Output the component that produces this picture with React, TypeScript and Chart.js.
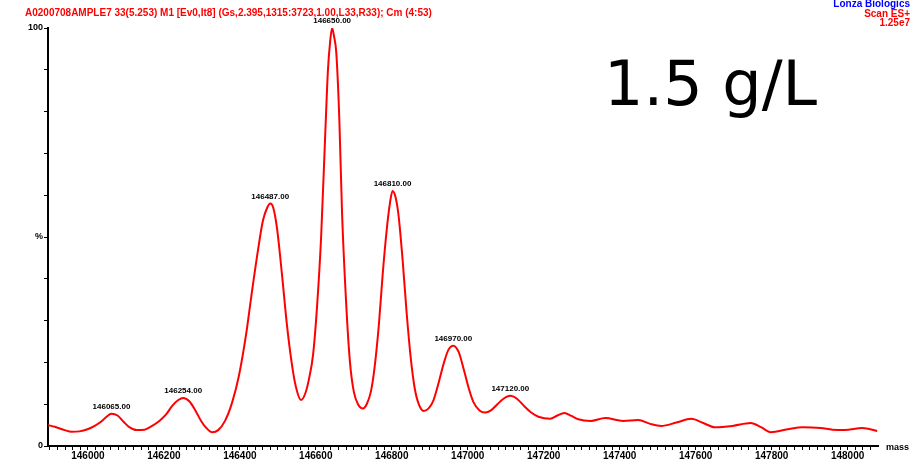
import React, { useEffect, useRef } from "react";
import { Chart, registerables } from "chart.js";

Chart.register(...registerables);

// ---- data (mass in Da, relative intensity in %) ----
const masses = [
  145895, 145913, 145939, 145957, 145978, 145999, 146018, 146036, 146049, 146062,
  146078, 146094, 146109, 146128, 146149, 146167, 146188, 146207, 146222, 146238,
  146251, 146267, 146283, 146298, 146312, 146327, 146343, 146361, 146380, 146398,
  146417, 146432, 146448, 146461, 146472, 146480, 146488, 146498, 146511, 146524,
  146538, 146548, 146561, 146572, 146582, 146593, 146603, 146614, 146625, 146632,
  146638, 146643, 146648, 146654, 146662, 146669, 146680, 146690, 146700, 146711,
  146724, 146734, 146745, 146755, 146766, 146776, 146787, 146795, 146802, 146810,
  146818, 146829, 146839, 146850, 146860, 146871, 146884, 146897, 146910, 146923,
  146936, 146949, 146962, 146976, 146989, 147002, 147015, 147031, 147046, 147062,
  147078, 147094, 147112, 147131, 147149, 147167, 147186, 147217, 147236, 147254,
  147273, 147291, 147323, 147362, 147409, 147449, 147480, 147509, 147549, 147588,
  147620, 147650, 147697, 147745, 147772, 147798, 147842, 147882, 147929, 147960,
  147992, 148039, 148078,
];
const intensity = [
  5.0, 4.6, 3.8, 3.4, 3.5, 4.0, 4.8, 5.9, 7.0, 7.7,
  7.3, 5.8, 4.5, 3.8, 3.9, 4.7, 6.0, 7.7, 9.6, 11.0,
  11.5, 10.7, 8.5, 6.0, 4.3, 3.3, 3.8, 6.0, 10.5, 17,
  27, 37, 47, 54, 57, 58, 57, 52, 41, 29,
  19, 14, 11, 12.5, 16, 22, 33, 50, 75, 90,
  97, 100, 98, 94, 78, 56, 34, 20, 13, 10,
  9, 10, 13, 19, 29, 41, 52, 58, 61, 59.5,
  55, 44, 32, 21, 14, 10, 8.4, 9, 11, 15,
  19.5, 23, 24, 22.5, 18.5, 14, 10.5, 8.5, 8, 8.6,
  10, 11.3, 12, 11.2, 9.5, 8, 7, 6.5, 7.3, 7.9,
  7.2, 6.4, 6.0, 6.7, 6.0, 6.2, 5.3, 4.8, 5.6, 6.5,
  5.5, 4.5, 4.8, 5.5, 4.5, 3.3, 4.0, 4.5, 4.3, 3.9,
  3.8, 4.3, 3.6,
];
const peakLabels = [
  "146065.00", "146254.00", "146487.00", "146650.00", "146810.00", "146970.00", "147120.00",
];
const xMin = 145895;
const xMax = 148080;
const xTickStart = 145900;
const xTickEnd = 148060;
const xTickStep = 20;
const xLabelStep = 200;
const yTickStep = 10;
const yTickLabels: Record<number, string> = { 0: "0", 50: "%", 100: "100" };
const xAxisTitle = "mass";
const headerText =
  "A0200708AMPLE7 33(5.253) M1 [Ev0,It8] (Gs,2.395,1315:3723,1.00,L33,R33); Cm (4:53)";
const companyText = "Lonza Biologics";
const scanText = "Scan ES+";
const scaleText = "1.25e7";
const bigText = "1.5 g/L";

const smallFont = 'bold 9px "Liberation Sans", Arial, sans-serif';
const headFont = 'bold 10px "Liberation Sans", Arial, sans-serif';

const textPlugin = {
  id: "textPlugin",
  afterDatasetsDraw(chart: any) {
    const { ctx, chartArea } = chart;
    const xs = chart.scales.x;
    const ys = chart.scales.y;
    ctx.save();
    // peak labels
    ctx.fillStyle = "#000";
    ctx.font = 'bold 8px "Liberation Sans", Arial, sans-serif';
    ctx.textAlign = "center";
    ctx.textBaseline = "bottom";
    peakLabels.forEach((lbl) => {
      const target = parseFloat(lbl);
      let best = -1;
      for (let i = 0; i < masses.length; i++) {
        if (Math.abs(masses[i] - target) <= 25) {
          if (best < 0 || intensity[i] > intensity[best]) best = i;
        }
      }
      if (best < 0) return;
      const px = xs.getPixelForValue(masses[best]);
      const py = ys.getPixelForValue(intensity[best]);
      ctx.fillText(lbl, px, py - 3);
    });
    // axis title
    ctx.font = smallFont;
    ctx.textAlign = "left";
    ctx.textBaseline = "middle";
    ctx.fillText(xAxisTitle, chartArea.right + 8, chartArea.bottom + 2);
    // header
    ctx.font = headFont;
    ctx.fillStyle = "#ff0000";
    ctx.textBaseline = "middle";
    ctx.fillText(headerText, 25, 13);
    ctx.textAlign = "right";
    ctx.fillStyle = "#0000ff";
    ctx.fillText(companyText, 910, 4);
    ctx.fillStyle = "#ff0000";
    ctx.fillText(scanText, 910, 14);
    ctx.fillText(scaleText, 910, 23);
    // big annotation
    ctx.fillStyle = "#000";
    ctx.textAlign = "left";
    ctx.textBaseline = "alphabetic";
    ctx.font = '62px "DejaVu Sans", Verdana, sans-serif';
    ctx.fillText(bigText, 604, 105);
    ctx.restore();
  },
};

export default function App() {
  const ref = useRef<HTMLCanvasElement>(null);
  useEffect(() => {
    if (!ref.current) return;
    const chart = new Chart(ref.current, {
      type: "line",
      data: {
        datasets: [
          {
            data: masses.map((m, i) => ({ x: m, y: intensity[i] })),
            borderColor: "#ff0000",
            borderWidth: 2,
            pointRadius: 0,
            fill: false,
            cubicInterpolationMode: "monotone",
          },
        ],
      },
      options: {
        responsive: false,
        animation: false,
        layout: { padding: { top: 28, right: 41, left: 0, bottom: 0 } },
        plugins: { legend: { display: false }, tooltip: { enabled: false } },
        scales: {
          x: {
            type: "linear",
            min: xMin,
            max: xMax,
            afterBuildTicks: (s: any) => {
              const t = [];
              for (let v = xTickStart; v <= xTickEnd; v += xTickStep) t.push({ value: v });
              s.ticks = t;
            },
            afterFit: (s: any) => {
              s.height = 14;
            },
            ticks: {
              autoSkip: false,
              maxRotation: 0,
              padding: 0,
              color: "#000",
              font: { family: '"Liberation Sans", Arial, sans-serif', size: 10, weight: "bold" },
              callback: (v: any) => (Math.round(v) % xLabelStep === 0 ? String(v) : ""),
            },
            grid: { drawOnChartArea: false, drawTicks: true, tickLength: 4, color: "#000" },
            border: { display: true, color: "#000", width: 2 },
          },
          y: {
            min: 0,
            max: 100,
            afterBuildTicks: (s: any) => {
              const t = [];
              for (let v = 0; v <= 100; v += yTickStep) t.push({ value: v });
              s.ticks = t;
            },
            afterFit: (s: any) => {
              s.width = 48;
            },
            ticks: {
              autoSkip: false,
              padding: 1,
              color: "#000",
              font: { family: '"Liberation Sans", Arial, sans-serif', size: 9, weight: "bold" },
              callback: (v: any) => yTickLabels[Math.round(v)] ?? "",
            },
            grid: { drawOnChartArea: false, drawTicks: true, tickLength: 4, color: "#000" },
            border: { display: true, color: "#000", width: 2 },
          },
        },
      },
      plugins: [textPlugin],
    } as any);
    return () => chart.destroy();
  }, []);
  return (
    <div style={{ position: "absolute", left: 0, top: 0, width: 919, height: 460, background: "#fff" }}>
      <canvas ref={ref} width={919} height={460} />
    </div>
  );
}
